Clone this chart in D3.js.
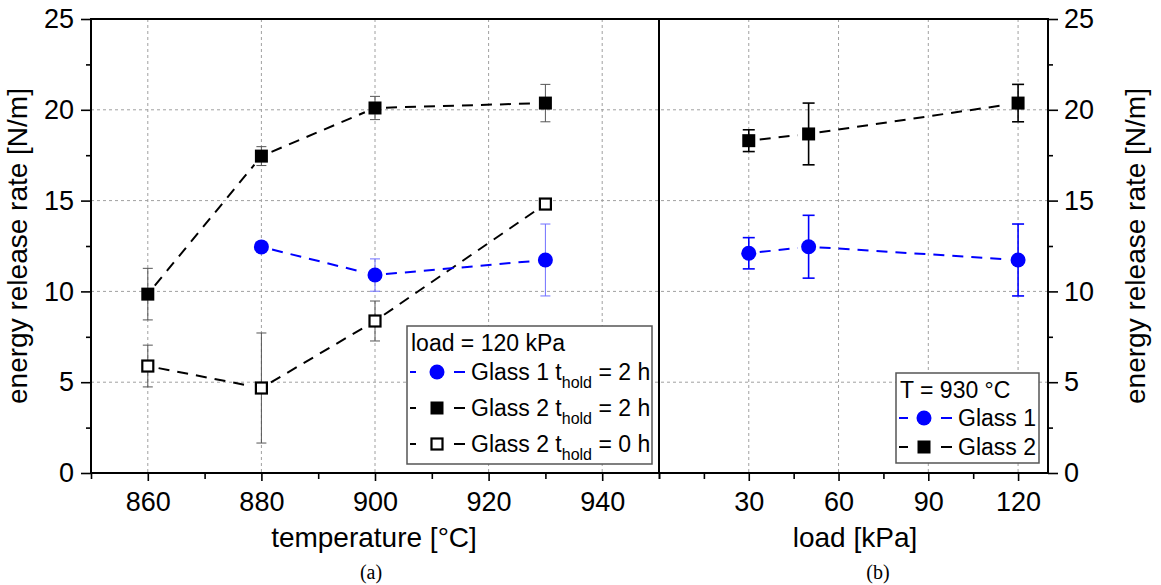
<!DOCTYPE html>
<html>
<head>
<meta charset="utf-8">
<script src="https://cdn.jsdelivr.net/npm/d3@7"></script>
<style>
  body { margin: 0; background: #fff; }
  svg { display: block; font-family: "Liberation Sans", Arial, sans-serif; }
  .grid line { stroke: #a0a0a0; stroke-width: 1; stroke-dasharray: 3,3; }
  .axis path { display: none; }
  .axis line { stroke: #000; stroke-width: 1.6; }
  .axis text { font-size: 27px; fill: #000; }
</style>
</head>
<body>
<div id="chart"></div>
<script>
'use strict';

// panel (a): energy release rate vs temperature, load = 120 kPa
var temps = [860, 880, 900, 930];
var g1hold2 = [null, 12.45, 10.9, 11.73];
var g1hold2Err = [0, 0, 0.89, 1.98];
var g2hold2 = [9.85, 17.45, 20.1, 20.37];
var g2hold2Err = [1.42, 0.52, 0.64, 1.03];
var g2hold0 = [5.89, 4.68, 8.37, 14.81];
var g2hold0Err = [1.15, 3.03, 1.1, 0];

// panel (b): energy release rate vs load, T = 930 °C
var loads = [30, 50, 120];
var g1load = [12.1, 12.46, 11.73];
var g1loadErr = [0.86, 1.73, 1.98];
var g2load = [18.3, 18.67, 20.37];
var g2loadErr = [0.6, 1.7, 1.03];

var yTicks = [0, 5, 10, 15, 20, 25];
var yMinor = [2.5, 7.5, 12.5, 17.5, 22.5];
var tempTicks = [860, 880, 900, 920, 940];
var tempMinor = [850, 870, 890, 910, 930, 950];
var loadTicks = [30, 60, 90, 120];
var loadMinor = [0, 15, 45, 75, 105];

(function() {
  var width = 1161, height = 585;
  var pTop = 19, pBottom = 473, pLeft = 91, pMid = 659, pRight = 1048;
  var blue = '#0000ff';

  var svg = d3.select('#chart').append('svg')
    .attr('width', width)
    .attr('height', height);

  var y = d3.scaleLinear().domain([0, 25]).range([pBottom, pTop]);
  var xT = d3.scaleLinear().domain([850, 950]).range([pLeft, pMid]);
  var xL = d3.scaleLinear().domain([0, 130]).range([pMid, pRight]);

  // grid
  var grid = svg.append('g').attr('class', 'grid');
  grid.selectAll('.gy').data([5, 10, 15, 20]).enter().append('line')
    .attr('x1', pLeft).attr('x2', pRight)
    .attr('y1', function(d) { return y(d); })
    .attr('y2', function(d) { return y(d); });
  grid.selectAll('.gt').data(tempTicks).enter().append('line')
    .attr('x1', function(d) { return xT(d); })
    .attr('x2', function(d) { return xT(d); })
    .attr('y1', pTop).attr('y2', pBottom);
  grid.selectAll('.gl').data(loadTicks).enter().append('line')
    .attr('x1', function(d) { return xL(d); })
    .attr('x2', function(d) { return xL(d); })
    .attr('y1', pTop).attr('y2', pBottom);

  // axes
  function addAxis(axis, tx, ty) {
    return svg.append('g').attr('class', 'axis')
      .attr('transform', 'translate(' + tx + ',' + ty + ')')
      .call(axis);
  }
  addAxis(d3.axisLeft(y).tickValues(yTicks).tickSize(10).tickPadding(7), pLeft, 0);
  addAxis(d3.axisLeft(y).tickValues(yMinor).tickSize(5).tickFormat(''), pLeft, 0);
  addAxis(d3.axisRight(y).tickValues(yTicks).tickSize(10).tickPadding(6), pRight, 0);
  addAxis(d3.axisRight(y).tickValues(yMinor).tickSize(5).tickFormat(''), pRight, 0);
  addAxis(d3.axisBottom(xT).tickValues(tempTicks).tickSize(8).tickPadding(11), 0, pBottom);
  addAxis(d3.axisBottom(xT).tickValues(tempMinor).tickSize(6).tickFormat(''), 0, pBottom);
  addAxis(d3.axisBottom(xL).tickValues(loadTicks).tickSize(8).tickPadding(11), 0, pBottom);
  addAxis(d3.axisBottom(xL).tickValues(loadMinor).tickSize(6).tickFormat(''), 0, pBottom);

  // frame
  svg.append('rect')
    .attr('x', pLeft).attr('y', pTop)
    .attr('width', pRight - pLeft).attr('height', pBottom - pTop)
    .attr('fill', 'none').attr('stroke', '#000').attr('stroke-width', 2);
  svg.append('line')
    .attr('x1', pMid).attr('x2', pMid).attr('y1', pTop).attr('y2', pBottom)
    .attr('stroke', '#000').attr('stroke-width', 2);

  function drawMarker(g, x, yy, type) {
    if (type === 'circle') {
      g.append('circle').attr('cx', x).attr('cy', yy).attr('r', 7.5).attr('fill', blue);
    } else if (type === 'square') {
      g.append('rect').attr('x', x - 6.5).attr('y', yy - 6.5)
        .attr('width', 13).attr('height', 13).attr('fill', '#000');
    } else {
      g.append('rect').attr('x', x - 5.5).attr('y', yy - 5.5)
        .attr('width', 11).attr('height', 11)
        .attr('fill', '#fff').attr('stroke', '#000').attr('stroke-width', 2.2);
    }
  }

  // series drawing
  function drawSeries(xs, vals, errs, xScale, opt) {
    var pts = [];
    xs.forEach(function(xv, i) {
      if (vals[i] !== null) pts.push({ x: xScale(xv), y: y(vals[i]), v: vals[i], e: errs[i] });
    });
    var g = svg.append('g');
    var gap = opt.gap;
    // dashed connecting lines, with a gap near each symbol
    for (var i = 0; i < pts.length - 1; i++) {
      var a = pts[i], b = pts[i + 1];
      var dx = b.x - a.x, dy = b.y - a.y, len = Math.sqrt(dx * dx + dy * dy);
      var ux = dx / len, uy = dy / len;
      g.append('line')
        .attr('x1', a.x + ux * gap).attr('y1', a.y + uy * gap)
        .attr('x2', b.x - ux * gap).attr('y2', b.y - uy * gap)
        .attr('stroke', opt.color).attr('stroke-width', 2)
        .attr('stroke-dasharray', '11,8');
    }
    // error bars
    pts.forEach(function(p) {
      if (!p.e) return;
      var y1 = y(p.v + p.e), y2 = y(p.v - p.e);
      g.append('line').attr('x1', p.x).attr('x2', p.x).attr('y1', y1).attr('y2', y2)
        .attr('stroke', opt.errColor).attr('stroke-width', opt.errWidth);
      [y1, y2].forEach(function(yy) {
        g.append('line').attr('x1', p.x - opt.cap).attr('x2', p.x + opt.cap)
          .attr('y1', yy).attr('y2', yy)
          .attr('stroke', opt.errColor).attr('stroke-width', opt.errWidth);
      });
    });
    pts.forEach(function(p) { drawMarker(g, p.x, p.y, opt.marker); });
  }

  drawSeries(temps, g2hold0, g2hold0Err, xT,
    { color: '#000', errColor: '#555', errWidth: 1, cap: 5, marker: 'open', gap: 11 });
  drawSeries(temps, g2hold2, g2hold2Err, xT,
    { color: '#000', errColor: '#555', errWidth: 1, cap: 5, marker: 'square', gap: 11 });
  drawSeries(temps, g1hold2, g1hold2Err, xT,
    { color: blue, errColor: '#7070ff', errWidth: 1, cap: 5, marker: 'circle', gap: 11 });
  drawSeries(loads, g2load, g2loadErr, xL,
    { color: '#000', errColor: '#000', errWidth: 1.6, cap: 6, marker: 'square', gap: 11 });
  drawSeries(loads, g1load, g1loadErr, xL,
    { color: blue, errColor: blue, errWidth: 1.6, cap: 6, marker: 'circle', gap: 11 });

  // axis titles
  svg.append('text').attr('x', 374).attr('y', 547).attr('text-anchor', 'middle')
    .style('font-size', '28px').text('temperature [°C]');
  svg.append('text').attr('x', 855).attr('y', 547).attr('text-anchor', 'middle')
    .style('font-size', '28px').text('load [kPa]');
  svg.append('text').attr('transform', 'translate(27,246) rotate(-90)')
    .attr('text-anchor', 'middle').style('font-size', '28px')
    .text('energy release rate [N/m]');
  svg.append('text').attr('transform', 'translate(1145,246) rotate(-90)')
    .attr('text-anchor', 'middle').style('font-size', '28px')
    .text('energy release rate [N/m]');

  // panel captions
  svg.append('text').attr('x', 371).attr('y', 579).attr('text-anchor', 'middle')
    .style('font-family', '"Liberation Serif", "Times New Roman", serif')
    .style('font-size', '20px').text('(a)');
  svg.append('text').attr('x', 878).attr('y', 579).attr('text-anchor', 'middle')
    .style('font-family', '"Liberation Serif", "Times New Roman", serif')
    .style('font-size', '20px').text('(b)');

  // legends
  function legend(box, title, rows) {
    var g = svg.append('g');
    g.append('rect').attr('x', box.x).attr('y', box.y)
      .attr('width', box.w).attr('height', box.h)
      .attr('fill', '#fff').attr('stroke', '#555').attr('stroke-width', 1.5);
    g.append('text').attr('x', box.x + 4).attr('y', box.y + 25)
      .style('font-size', '23px').text(title);
    rows.forEach(function(r, i) {
      var cy = box.y + box.first + i * box.step;
      var mx = box.x + box.mx;
      [[box.x + 3, box.x + box.l1], [box.x + box.l2, box.x + box.l3]].forEach(function(s) {
        g.append('line').attr('x1', s[0]).attr('x2', s[1]).attr('y1', cy).attr('y2', cy)
          .attr('stroke', r.color).attr('stroke-width', 2);
      });
      drawMarker(g, mx, cy, r.marker);
      var t = g.append('text').attr('x', box.x + box.tx).attr('y', cy + 8)
        .style('font-size', '23px');
      t.append('tspan').text(r.label);
      if (r.sub) {
        t.append('tspan').attr('dy', 8).style('font-size', '16px').text(r.sub);
        t.append('tspan').attr('dy', -8).text(r.after);
      }
    });
  }

  legend({ x: 407, y: 326, w: 245, h: 138, first: 46, step: 36, mx: 30, l1: 9, l2: 47, l3: 58, tx: 64 },
    'load = 120 kPa', [
      { label: 'Glass 1 t', sub: 'hold', after: ' = 2 h', color: blue, marker: 'circle' },
      { label: 'Glass 2 t', sub: 'hold', after: ' = 2 h', color: '#000', marker: 'square' },
      { label: 'Glass 2 t', sub: 'hold', after: ' = 0 h', color: '#000', marker: 'open' }
    ]);
  legend({ x: 896, y: 373, w: 143, h: 90, first: 45, step: 29, mx: 28, l1: 12, l2: 45, l3: 56, tx: 62 },
    'T = 930 °C', [
      { label: 'Glass 1', color: blue, marker: 'circle' },
      { label: 'Glass 2', color: '#000', marker: 'square' }
    ]);
})();
</script>
</body>
</html>
